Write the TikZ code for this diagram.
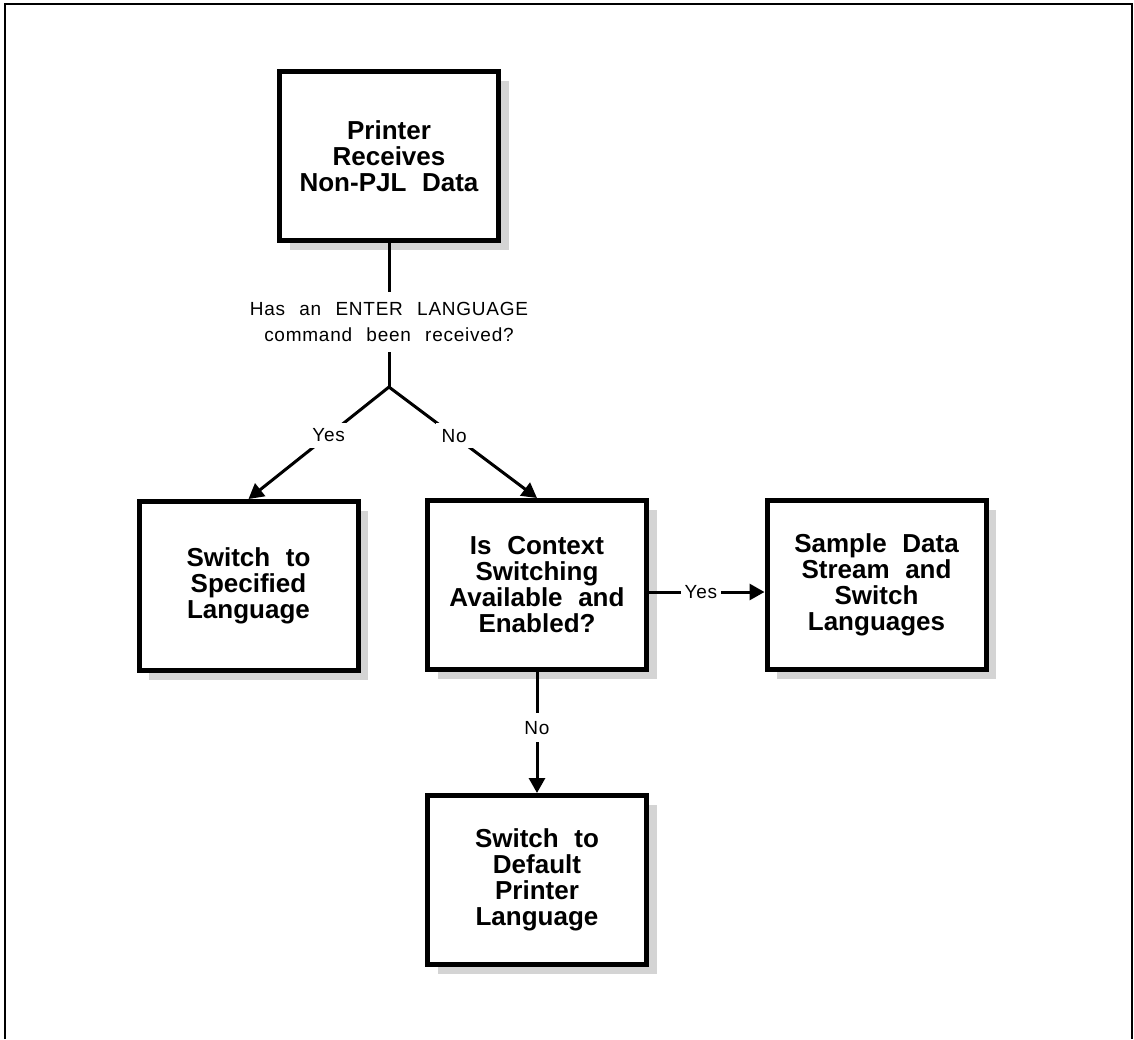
\documentclass[tikz,border=0pt]{standalone}
\usepackage{fontspec}
\setmainfont{Liberation Sans}
\newfontfamily\stepfont{Liberation Sans}
\newfontfamily\answerfont[LetterSpace=4]{Liberation Sans}
\usetikzlibrary{arrows.meta, positioning}

\newcommand{\stepsize}{\fontsize{26}{26}\stepfont\bfseries\spaceskip=0.6em plus 0.1em\relax}
\newcommand{\answersize}{\fontsize{19}{26}\answerfont\spaceskip=0.75em plus 0.1em\relax}

\tikzset{
  stepbox/.style={draw, line width=5pt, fill=white, align=center,
    minimum width=219pt, minimum height=169pt, font=\stepsize,
    preaction={fill=black!17, transform canvas={shift={(10pt,-9pt)}}}},
  wire/.style={line width=3pt},
  answer/.style={font=\answersize, fill=white, align=center, inner sep=6pt}
}

\begin{document}
\begin{tikzpicture}[x=1pt, y=-1pt, >={Triangle[length=15pt,width=16pt]}]
\useasboundingbox (0,0) rectangle (1134,1039);
% page frame, open at the bottom
\draw[line width=2pt] (5,1039) -- (5,4) -- (1132,4) -- (1132,1039);

% boxes
\node[stepbox] (recv) at (389,156) {Printer\\Receives\\Non-PJL Data};
\node[stepbox] (spec) at (248.5,586) {Switch to\\Specified\\Language};
\node[stepbox] (ctx) at (537,585) {Is Context\\Switching\\Available and\\Enabled?};
\node[stepbox] (sample) at (876.5,585) {Sample Data\\Stream and\\Switch\\Languages};
\node[stepbox] (dflt) at (537,880) {Switch to\\Default\\Printer\\Language};

% first question and its fork
\coordinate (fork) at (389,387);
\draw[wire] (recv.south) -- (fork);
\node[answer, inner sep=10pt] (ask) at (389,322) {Has an ENTER LANGUAGE\\command been received?};
\draw[wire,->] (fork) -- (spec.north) node[answer, pos=0.43] (yesspec) {Yes};
\draw[wire,->] (fork) -- (ctx.north) node[answer, pos=0.44] (noctx) {No};

% context switching
\draw[wire,->] ([yshift=-7pt]ctx.east) -- ([yshift=-7pt]sample.west) node[answer, pos=0.45, inner sep=4pt] (yessample) {Yes};
\draw[wire,->] (ctx.south) -- (dflt.north) node[answer, pos=0.46, inner sep=8pt] (nodflt) {No};
\end{tikzpicture}
\end{document}
